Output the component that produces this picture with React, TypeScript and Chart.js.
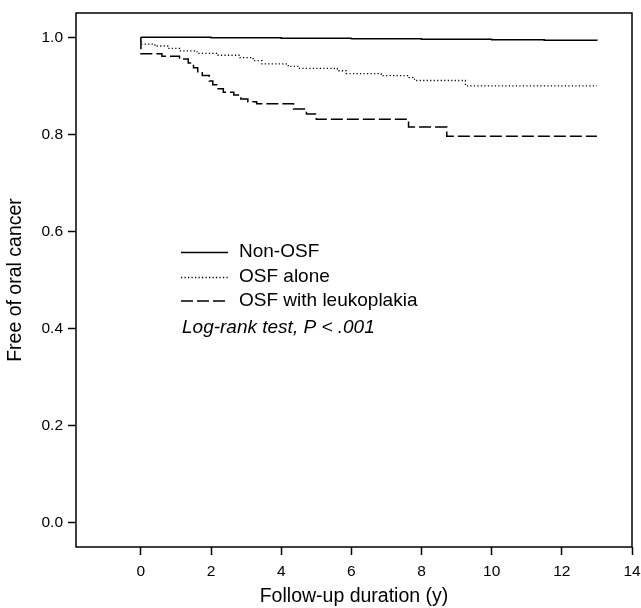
import React, { useEffect, useRef } from "react";
import { Chart, registerables } from "chart.js";

Chart.register(...registerables);

const seriesNames = ["Non-OSF", "OSF alone", "OSF with leukoplakia"];

const nonOsfTime = [0, 2, 4, 6, 8, 10, 11.5, 13];
const nonOsfSurv = [1.0, 0.999, 0.998, 0.997, 0.996, 0.995, 0.994, 0.993];

const osfTime = [0, 0, 0.4, 0.8, 1.1, 1.6, 2.2, 2.8, 3.2, 3.45, 4.2, 4.5, 5.6, 5.85, 6.85, 7.6, 7.8, 9.25, 13];
const osfSurv = [1.0, 0.986, 0.982, 0.977, 0.972, 0.967, 0.963, 0.958, 0.952, 0.945, 0.94, 0.936, 0.931, 0.925, 0.921, 0.917, 0.911, 0.9, 0.9];

const leukTime = [0, 0, 0.6, 1.1, 1.35, 1.5, 1.62, 1.75, 1.95, 2.05, 2.2, 2.35, 2.65, 2.85, 3.05, 3.3, 4.35, 4.72, 5.0, 7.63, 8.72, 13];
const leukSurv = [1.0, 0.966, 0.961, 0.955, 0.947, 0.937, 0.929, 0.921, 0.91, 0.902, 0.894, 0.887, 0.881, 0.873, 0.867, 0.863, 0.852, 0.842, 0.831, 0.815, 0.796, 0.796];

const xTicks = [0, 2, 4, 6, 8, 10, 12, 14];
const yTicks = [0, 0.2, 0.4, 0.6, 0.8, 1.0];

const xTitle = "Follow-up duration (y)";
const yTitle = "Free of oral cancer";
const testNote = "Log-rank test, P < .001";

const FONT = 'Arial, "Liberation Sans", Helvetica, sans-serif';

const toPoints = (t: number[], s: number[]) => t.map((x, i) => ({ x, y: s[i] }));

const framePlugin = {
  id: "frame",
  afterDraw(chart: any) {
    const { ctx, chartArea } = chart;
    ctx.save();
    ctx.strokeStyle = "#000";
    ctx.lineWidth = 1.5;
    ctx.strokeRect(chartArea.left, chartArea.top, chartArea.right - chartArea.left, chartArea.bottom - chartArea.top);
    ctx.restore();
  },
};

const legendPlugin = {
  id: "innerLegend",
  afterDatasetsDraw(chart: any) {
    const { ctx } = chart;
    const rowsY = [252.5, 277.5, 301];
    ctx.save();
    chart.data.datasets.forEach((ds: any, i: number) => {
      const y = rowsY[i];
      ctx.beginPath();
      ctx.setLineDash(ds.borderDash || []);
      ctx.lineWidth = ds.borderWidth;
      ctx.strokeStyle = ds.borderColor;
      ctx.moveTo(181, y);
      ctx.lineTo(228, y);
      ctx.stroke();
      ctx.setLineDash([]);
      ctx.fillStyle = "#000";
      ctx.font = `19px ${FONT}`;
      ctx.textBaseline = "middle";
      ctx.textAlign = "left";
      ctx.fillText(ds.label, 239, y - 0.5);
    });
    ctx.font = `italic 19px ${FONT}`;
    ctx.textBaseline = "middle";
    ctx.fillText(testNote, 182, 327.5);
    ctx.restore();
  },
};

export default function App() {
  const ref = useRef<HTMLCanvasElement | null>(null);

  useEffect(() => {
    if (!ref.current) return;
    const common = {
      borderColor: "#000",
      pointRadius: 0,
      pointHoverRadius: 0,
      fill: false,
      stepped: "before" as const,
      tension: 0,
    };
    const chart = new Chart(ref.current, {
      type: "line",
      data: {
        datasets: [
          { ...common, label: seriesNames[0], data: toPoints(nonOsfTime, nonOsfSurv), borderWidth: 1.5, borderDash: [] },
          { ...common, label: seriesNames[1], data: toPoints(osfTime, osfSurv), borderWidth: 1.3, borderDash: [1.2, 2.3] },
          { ...common, label: seriesNames[2], data: toPoints(leukTime, leukSurv), borderWidth: 1.5, borderDash: [12, 4] },
        ],
      },
      options: {
        responsive: false,
        animation: false,
        events: [],
        layout: { padding: { top: 13, right: 9, left: 0, bottom: 0 } },
        plugins: { legend: { display: false }, tooltip: { enabled: false } },
        scales: {
          x: {
            type: "linear",
            min: -1.85,
            max: 14,
            border: { display: false },
            grid: { drawOnChartArea: false, drawTicks: true, tickLength: 8, tickWidth: 1.5, tickColor: "#000" },
            ticks: { color: "#000", font: { family: FONT, size: 15.5 }, padding: 7, maxRotation: 0, autoSkip: false },
            afterBuildTicks: (scale: any) => {
              scale.ticks = xTicks.map((v) => ({ value: v }));
            },
            afterFit: (scale: any) => {
              scale.height = 61;
              scale.paddingLeft = 0;
              scale.paddingRight = 0;
            },
            title: { display: true, text: xTitle, color: "#000", font: { family: FONT, size: 19.5 }, padding: { top: 0, bottom: 0 } },
          },
          y: {
            type: "linear",
            min: -0.05,
            max: 1.05,
            border: { display: false },
            grid: { drawOnChartArea: false, drawTicks: true, tickLength: 8, tickWidth: 1.5, tickColor: "#000" },
            ticks: {
              color: "#000",
              font: { family: FONT, size: 15.5 },
              padding: 5,
              callback: (v: any) => Number(v).toFixed(1),
            },
            afterBuildTicks: (scale: any) => {
              scale.ticks = yTicks.map((v) => ({ value: v }));
            },
            afterFit: (scale: any) => {
              scale.width = 76;
              scale.paddingTop = 0;
              scale.paddingBottom = 0;
            },
            title: { display: true, text: yTitle, color: "#000", font: { family: FONT, size: 19.5 }, padding: { top: 4, bottom: 0 } },
          },
        },
      },
      plugins: [framePlugin, legendPlugin],
    });
    return () => chart.destroy();
  }, []);

  return (
    <div style={{ position: "fixed", left: 0, top: 0, width: 641, height: 608, background: "#fff" }}>
      <canvas ref={ref} width={641} height={608} style={{ width: 641, height: 608, display: "block" }} />
    </div>
  );
}
